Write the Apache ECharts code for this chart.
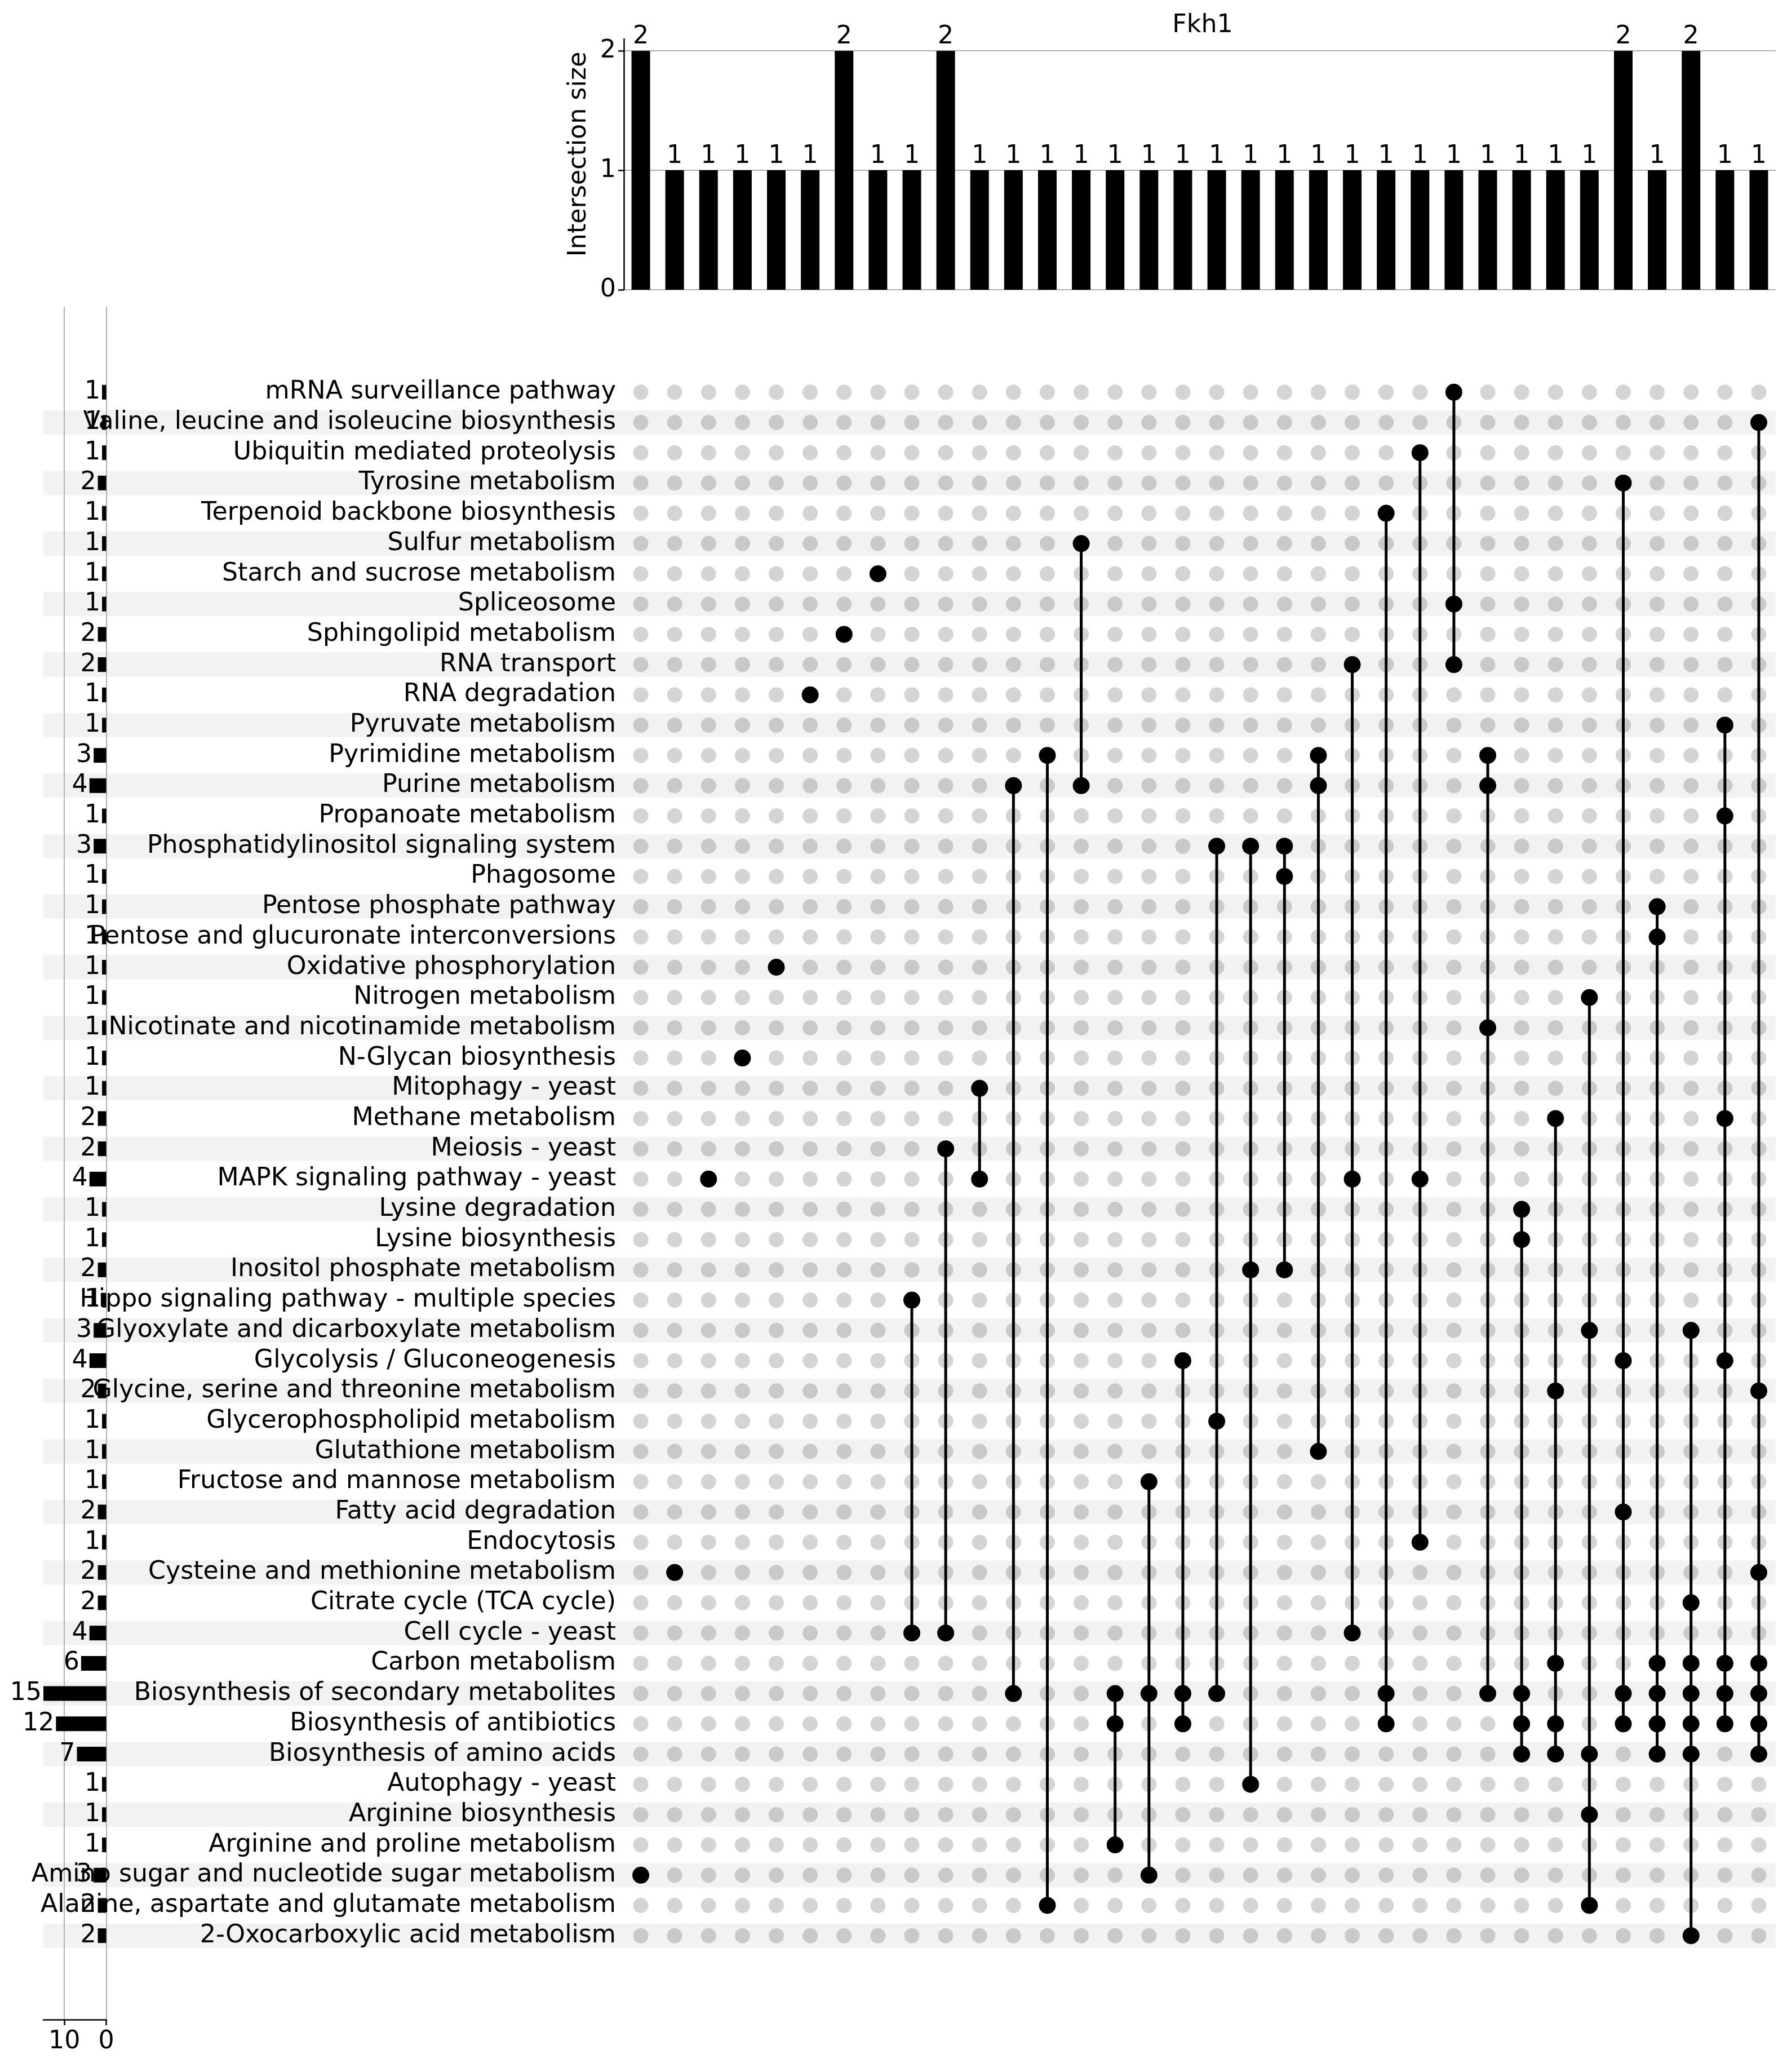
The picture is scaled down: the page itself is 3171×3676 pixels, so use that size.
<!DOCTYPE html>
<html><head><meta charset="utf-8">
<script src="https://cdn.jsdelivr.net/npm/echarts@6/dist/echarts.min.js"></script>
<style>html,body{margin:0;padding:0;background:#fff}#chart{width:3171px;height:3676px}</style>
</head><body><div id="chart"></div>
<script>
const chartTitle = 'Fkh1';
const intersectionAxisName = 'Intersection size';

const setNames = [
  'mRNA surveillance pathway',
  'Valine, leucine and isoleucine biosynthesis',
  'Ubiquitin mediated proteolysis',
  'Tyrosine metabolism',
  'Terpenoid backbone biosynthesis',
  'Sulfur metabolism',
  'Starch and sucrose metabolism',
  'Spliceosome',
  'Sphingolipid metabolism',
  'RNA transport',
  'RNA degradation',
  'Pyruvate metabolism',
  'Pyrimidine metabolism',
  'Purine metabolism',
  'Propanoate metabolism',
  'Phosphatidylinositol signaling system',
  'Phagosome',
  'Pentose phosphate pathway',
  'Pentose and glucuronate interconversions',
  'Oxidative phosphorylation',
  'Nitrogen metabolism',
  'Nicotinate and nicotinamide metabolism',
  'N-Glycan biosynthesis',
  'Mitophagy - yeast',
  'Methane metabolism',
  'Meiosis - yeast',
  'MAPK signaling pathway - yeast',
  'Lysine degradation',
  'Lysine biosynthesis',
  'Inositol phosphate metabolism',
  'Hippo signaling pathway - multiple species',
  'Glyoxylate and dicarboxylate metabolism',
  'Glycolysis / Gluconeogenesis',
  'Glycine, serine and threonine metabolism',
  'Glycerophospholipid metabolism',
  'Glutathione metabolism',
  'Fructose and mannose metabolism',
  'Fatty acid degradation',
  'Endocytosis',
  'Cysteine and methionine metabolism',
  'Citrate cycle (TCA cycle)',
  'Cell cycle - yeast',
  'Carbon metabolism',
  'Biosynthesis of secondary metabolites',
  'Biosynthesis of antibiotics',
  'Biosynthesis of amino acids',
  'Autophagy - yeast',
  'Arginine biosynthesis',
  'Arginine and proline metabolism',
  'Amino sugar and nucleotide sugar metabolism',
  'Alanine, aspartate and glutamate metabolism',
  '2-Oxocarboxylic acid metabolism'
];

const setSizes = [1,1,1,2,1,1,1,1,2,2, 1,1,3,4,1,3,1,1,1,1, 1,1,1,1,2,2,4,1,1,2, 1,3,4,2,1,1,1,2,1,2, 2,4,6,15,12,7,1,1,1,3, 2,2];

const intersectionSizes = [2,1,1,1,1,1,2,1,1,2, 1,1,1,1,1,1,1,1,1,1, 1,1,1,1,1,1,1,1,1,2, 1,2,1,1];

const intersectionMembers = [
  ['Amino sugar and nucleotide sugar metabolism'],
  ['Cysteine and methionine metabolism'],
  ['MAPK signaling pathway - yeast'],
  ['N-Glycan biosynthesis'],
  ['Oxidative phosphorylation'],
  ['RNA degradation'],
  ['Sphingolipid metabolism'],
  ['Starch and sucrose metabolism'],
  ['Hippo signaling pathway - multiple species','Cell cycle - yeast'],
  ['Meiosis - yeast','Cell cycle - yeast'],
  ['Mitophagy - yeast','MAPK signaling pathway - yeast'],
  ['Purine metabolism','Biosynthesis of secondary metabolites'],
  ['Pyrimidine metabolism','Alanine, aspartate and glutamate metabolism'],
  ['Sulfur metabolism','Purine metabolism'],
  ['Biosynthesis of secondary metabolites','Biosynthesis of antibiotics','Arginine and proline metabolism'],
  ['Fructose and mannose metabolism','Biosynthesis of secondary metabolites','Amino sugar and nucleotide sugar metabolism'],
  ['Glycolysis / Gluconeogenesis','Biosynthesis of secondary metabolites','Biosynthesis of antibiotics'],
  ['Phosphatidylinositol signaling system','Glycerophospholipid metabolism','Biosynthesis of secondary metabolites'],
  ['Phosphatidylinositol signaling system','Inositol phosphate metabolism','Autophagy - yeast'],
  ['Phosphatidylinositol signaling system','Phagosome','Inositol phosphate metabolism'],
  ['Pyrimidine metabolism','Purine metabolism','Glutathione metabolism'],
  ['RNA transport','MAPK signaling pathway - yeast','Cell cycle - yeast'],
  ['Terpenoid backbone biosynthesis','Biosynthesis of secondary metabolites','Biosynthesis of antibiotics'],
  ['Ubiquitin mediated proteolysis','MAPK signaling pathway - yeast','Endocytosis'],
  ['mRNA surveillance pathway','Spliceosome','RNA transport'],
  ['Pyrimidine metabolism','Purine metabolism','Nicotinate and nicotinamide metabolism','Biosynthesis of secondary metabolites'],
  ['Lysine degradation','Lysine biosynthesis','Biosynthesis of secondary metabolites','Biosynthesis of antibiotics','Biosynthesis of amino acids'],
  ['Methane metabolism','Glycine, serine and threonine metabolism','Carbon metabolism','Biosynthesis of antibiotics','Biosynthesis of amino acids'],
  ['Nitrogen metabolism','Glyoxylate and dicarboxylate metabolism','Biosynthesis of amino acids','Arginine biosynthesis','Alanine, aspartate and glutamate metabolism'],
  ['Tyrosine metabolism','Glycolysis / Gluconeogenesis','Fatty acid degradation','Biosynthesis of secondary metabolites','Biosynthesis of antibiotics'],
  ['Pentose phosphate pathway','Pentose and glucuronate interconversions','Carbon metabolism','Biosynthesis of secondary metabolites','Biosynthesis of antibiotics','Biosynthesis of amino acids'],
  ['Glyoxylate and dicarboxylate metabolism','Citrate cycle (TCA cycle)','Carbon metabolism','Biosynthesis of secondary metabolites','Biosynthesis of antibiotics','Biosynthesis of amino acids','2-Oxocarboxylic acid metabolism'],
  ['Pyruvate metabolism','Propanoate metabolism','Methane metabolism','Glycolysis / Gluconeogenesis','Carbon metabolism','Biosynthesis of secondary metabolites','Biosynthesis of antibiotics'],
  ['Valine, leucine and isoleucine biosynthesis','Glycine, serine and threonine metabolism','Cysteine and methionine metabolism','Carbon metabolism','Biosynthesis of secondary metabolites','Biosynthesis of antibiotics','Biosynthesis of amino acids']
];

const intersectionTicks = [0, 1, 2];
const setSizeTicks = [0, 10];

// ---------- derived structures ----------
const colCats = intersectionSizes.map((_, i) => String(i));
const memberIdx = intersectionMembers.map(list => list.map(n => {
  const k = setNames.indexOf(n);
  if (k < 0) console.error('unknown set', n);
  return k;
}));
const blackDots = [], grayDots = [], links = [];
memberIdx.forEach((rows, c) => {
  for (let r = 0; r < setNames.length; r++) {
    if (rows.includes(r)) blackDots.push([c, r]); else grayDots.push([c, r]);
  }
  if (rows.length > 1) links.push([c, Math.min(...rows), Math.max(...rows)]);
});
const stripeData = setNames.map((_, i) => (i % 2 === 1 ? 1 : 0));

const FONT = 'DejaVu Sans';
const FS = 44.3;
const GRID_GRAY = '#b0b0b0';

const chart = echarts.init(document.getElementById('chart'), null, {renderer: 'canvas'});
chart.setOption({
  backgroundColor: '#ffffff',
  animation: false,
  textStyle: {fontFamily: FONT},
  title: {
    text: chartTitle, left: 2129, top: 18, textAlign: 'center',
    textStyle: {fontFamily: FONT, fontSize: FS, fontWeight: 'normal', color: '#000'}
  },
  grid: [
    {left: 1107, top: 69, width: 2044, height: 445},
    {left: 77, top: 669, width: 3074, height: 2792},
    {left: 1107, top: 669, width: 2044, height: 2792},
    {left: 77, top: 669, width: 111.5, height: 2792},
    {left: 77, top: 544, width: 111.5, height: 3039}
  ],
  xAxis: [
    {gridIndex: 0, type: 'category', data: colCats, show: false},
    {gridIndex: 1, type: 'value', min: 0, max: 1, show: false},
    {gridIndex: 2, type: 'category', data: colCats, show: false},
    {gridIndex: 3, type: 'value', min: 0, max: 15, inverse: true, show: false},
    {gridIndex: 4, type: 'value', min: 0, max: 15, interval: 10, inverse: true, position: 'bottom', z: 1,
     axisLine: {show: true, lineStyle: {color: '#000', width: 2.5}},
     axisTick: {show: true, length: 10, customValues: setSizeTicks, lineStyle: {color: '#000', width: 2.5}},
     axisLabel: {customValues: setSizeTicks, fontFamily: FONT, fontSize: FS, color: '#000', margin: 17},
     splitLine: {show: true, lineStyle: {color: GRID_GRAY, width: 2}}}
  ],
  yAxis: [
    {gridIndex: 0, type: 'value', min: 0, max: 2.1, interval: 1,
     name: intersectionAxisName, nameLocation: 'middle', nameGap: 58,
     nameTextStyle: {fontFamily: FONT, fontSize: FS, color: '#000', padding: [0, 0, 0, 36]},
     axisLine: {show: true, lineStyle: {color: '#000', width: 2.5}},
     axisTick: {show: true, length: 10, customValues: intersectionTicks, lineStyle: {color: '#000', width: 2.5}},
     axisLabel: {customValues: intersectionTicks, fontFamily: FONT, fontSize: FS, color: '#000', margin: 14},
     splitLine: {show: true, lineStyle: {color: GRID_GRAY, width: 2}}},
    {gridIndex: 1, type: 'category', data: setNames, inverse: true, show: false},
    {gridIndex: 2, type: 'category', data: setNames, inverse: true, z: 1,
     axisLine: {show: false}, axisTick: {show: false}, splitLine: {show: false},
     axisLabel: {interval: 0, fontFamily: FONT, fontSize: FS, color: '#000', margin: 14, padding: [6, 0, 0, 0]}},
    {gridIndex: 3, type: 'category', data: setNames, inverse: true, show: false},
    {gridIndex: 4, type: 'value', min: 0, max: 1, show: false}
  ],
  series: [
    {type: 'bar', xAxisIndex: 0, yAxisIndex: 0, data: intersectionSizes, barWidth: 33, z: 3,
     itemStyle: {color: '#000'},
     label: {show: true, position: 'top', distance: 3, fontFamily: FONT, fontSize: FS, color: '#000'}},
    {type: 'bar', xAxisIndex: 1, yAxisIndex: 1, data: stripeData, barWidth: 43, z: 0, silent: true,
     itemStyle: {color: '#f2f2f2'}},
    {type: 'scatter', xAxisIndex: 2, yAxisIndex: 2, data: grayDots, symbolSize: 27, z: 2, silent: true,
     itemStyle: {color: 'rgba(0,0,0,0.17)', opacity: 1}},
    {type: 'custom', xAxisIndex: 2, yAxisIndex: 2, data: links, z: 3, silent: true,
     encode: {x: 0, y: [1, 2]},
     renderItem: function (params, api) {
       const p1 = api.coord([api.value(0), api.value(1)]);
       const p2 = api.coord([api.value(0), api.value(2)]);
       return {type: 'line', shape: {x1: p1[0], y1: p1[1], x2: p2[0], y2: p2[1]},
               style: {stroke: '#000', lineWidth: 5}};
     }},
    {type: 'scatter', xAxisIndex: 2, yAxisIndex: 2, data: blackDots, symbolSize: 30, z: 4, silent: true,
     itemStyle: {color: '#000', opacity: 1}},
    {type: 'bar', xAxisIndex: 3, yAxisIndex: 3, data: setSizes, barWidth: 26, z: 3,
     itemStyle: {color: '#000'},
     label: {show: true, position: 'left', distance: 3, fontFamily: FONT, fontSize: FS, color: '#000'}}
  ]
});
</script>
</body></html>
